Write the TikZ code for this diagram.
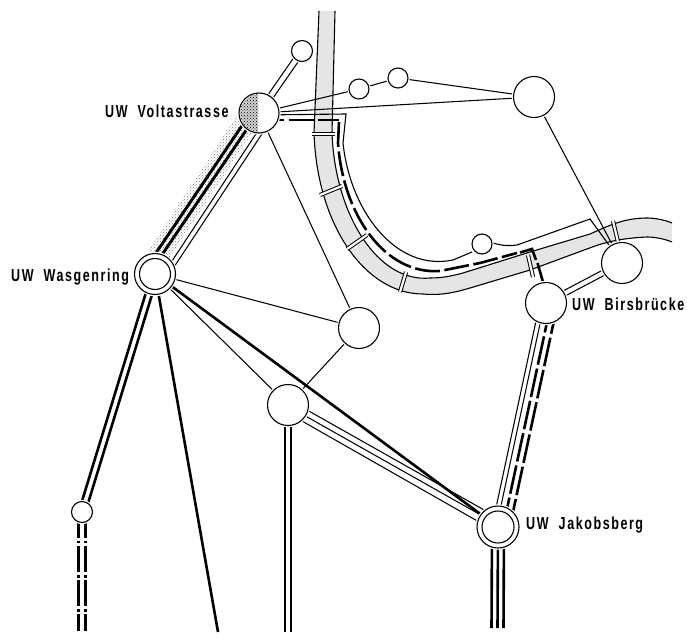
\documentclass[tikz,border=0pt]{standalone}
\usepackage{fontspec}
\newfontfamily\lab[FakeStretch=0.72,LetterSpace=9]{Liberation Sans Bold}
\usetikzlibrary{calc,backgrounds,patterns}
\newcommand{\outeredge}{(319,11) -- (314,133) .. controls (317,225) and (365,294) .. (423,294) .. controls (445,296) and (460,291) .. (480,285) -- (530,270) -- (595,246) .. controls (610,241) and (625,238) .. (647,237) .. controls (655,237) and (665,239) .. (672,242)}
\newcommand{\inneredge}{(335,11) -- (332,133) .. controls (335,215) and (378,283) .. (430,278) .. controls (445,278) and (455,275) .. (463,273) -- (530,252) -- (590,234) .. controls (610,225) and (625,218) .. (647,218) .. controls (655,218) and (665,220) .. (672,223)}
\tikzset{
  stn/.style={circle,draw,fill=white,inner sep=0pt,outer sep=0pt,minimum size=#1,line width=1.1pt,preaction={draw=white,line width=3.5pt}},
  ringin/.style={circle,draw,fill=white,inner sep=0pt,outer sep=0pt,minimum size=#1,line width=1.1pt},
  lbl/.style={anchor=west,inner sep=0pt,font=\lab\fontsize{17.4}{19}\selectfont},
  thinl/.style={line width=1.05pt},
  thickl/.style={line width=2.6pt},
  cable/.style={line width=2.6pt,dash pattern=on 25pt off 4.5pt},
  edge/.style={line width=1.1pt},
  tick/.style={line width=1pt,double=white,double distance=2.2pt},
}
\begin{document}
\begin{tikzpicture}[x=1pt,y=-1pt]
\useasboundingbox (0,0) rectangle (687,642);
% stations
\node[stn=40pt] (V) at (259,113) {};
\node[stn=21pt] (T) at (302,51) {};
\node[stn=20pt] (A) at (359,89) {};
\node[stn=20pt] (B) at (398,78) {};
\node[stn=41pt] (C) at (534,97) {};
\node[stn=41pt] (W) at (155,274) {};
\node[ringin=31pt] (Wi) at (W) {};
\node[stn=41pt] (D) at (359,328) {};
\node[stn=41pt] (P) at (288,405) {};
\node[stn=42pt] (J) at (498,527) {};
\node[ringin=32pt] (Ji) at (J) {};
\node[stn=41pt] (E) at (622,263) {};
\node[stn=41pt] (F) at (546,303) {};
\node[stn=21pt] (S) at (82,512) {};
\node[stn=20pt] (R) at (482,244) {};
% stippled part of Voltastrasse
\begin{scope}
\clip (V) circle (19pt);
\fill[gray!35] (236,90) rectangle (258,136);
\fill[pattern=crosshatch dots,pattern color=black] (236,90) rectangle (258,136);
\end{scope}
% labels
\node[lbl] (lV) at (105,111) {UW\ \ Voltastrasse};
\node[lbl] (lW) at (11,277) {UW\ \ Wasgenring};
\node[lbl] (lF) at (572,304) {UW\ \ Birsbrücke};
\node[lbl] (lJ) at (526,525) {UW\ \ Jakobsberg};
% free ends
\coordinate (endQ) at (218,632);
\coordinate (endS) at (82,631);
\coordinate (endP) at (288,632);
\coordinate (endJ) at (497.5,628);
\begin{scope}[on background layer]
% river
\fill[gray!20] \outeredge -- (672,223) .. controls (665,220) and (655,218) .. (647,218) .. controls (625,218) and (610,225) .. (590,234) -- (530,252) -- (463,273) .. controls (455,275) and (445,278) .. (430,278) .. controls (378,283) and (335,215) .. (332,133) -- (335,11) -- cycle;
\draw[edge] \outeredge;
\draw[edge] \inneredge;
% stippled strip
\fill[pattern=crosshatch dots,pattern color=gray]
  ($(V)!-17pt!90:(W)$) -- ($(V)!5pt!90:(W)$) -- ($(W)!3pt!-90:(V)$) -- ($(W)!-18pt!-90:(V)$) -- cycle;
% thin cable along the river
\draw[edge,line join=miter] ($(V)+(0,2)$) -- (346,114) -- (343,143) .. controls (350,210) and (395,272) .. (453,260) -- (472,252);
\draw[edge] (R) -- (493,243) .. controls (503,246) and (510,246) .. (517,245) -- (590,219) -- (E);
% heavy dashed cable along the river
\draw[cable] ($(V)+(0,7)$) -- (339,120);
\draw[cable] (339,122) -- (338,143) .. controls (343,215) and (385,275) .. (440,271) -- (480,263) -- (517,253);
\draw[line width=2.6pt,line join=miter] (520,252.5) -- (532,249) -- (536,260);
\draw[line width=2.6pt] (537.5,263) -- (543,282);
% crossings of the river
\draw[tick] (312,134) -- (335,134);
\draw[tick] (320,195) -- (342,186);
\draw[tick] (347,249) -- (367,235);
\draw[tick] (400,292) -- (406,272);
\draw[tick] (528,255) -- (533,277);
\draw[tick] (613,221) -- (618,242);
% single lines
\draw[thinl] (V) -- (A);
\draw[thinl] (A) -- (B);
\draw[thinl] (B) -- (C);
\draw[thinl] (V) -- (C);
\draw[thinl] (V) -- (D);
\draw[thinl] (C) -- (E);
\draw[thinl] (W) -- (D);
\draw[thinl] (W) -- (P);
\draw[thinl] (D) -- (P);
\draw[thickl] (W) -- (J);
\draw[thickl] (W) -- (endQ);
% V - T
\draw[thinl] ($(V)!3pt!90:(T)$) -- ($(T)!3pt!-90:(V)$);
\draw[thinl] ($(V)!-3pt!90:(T)$) -- ($(T)!-3pt!-90:(V)$);
% V - W bundle
\draw[line width=2.9pt] ($(V)!-7pt!90:(W)$) -- ($(W)!-11pt!-90:(V)$);
\draw[line width=2.9pt] ($(V)!-1pt!90:(W)$) -- ($(W)!-5pt!-90:(V)$);
\draw[thinl] ($(V)!9pt!90:(W)$) -- ($(W)!7pt!-90:(V)$);
\draw[thinl] ($(V)!14pt!90:(W)$) -- ($(W)!12pt!-90:(V)$);
% W - S
\draw[thickl] ($(W)!3.2pt!90:(S)$) -- ($(S)!3.2pt!-90:(W)$);
\draw[thickl] ($(W)!-3.2pt!90:(S)$) -- ($(S)!-3.2pt!-90:(W)$);
% S - free end
\draw[line width=2.4pt,dash pattern=on 26pt off 2.7pt on 2.7pt off 2.7pt] ($(S)+(-3.5,0)$) -- ($(endS)+(-3.5,0)$);
\draw[line width=2.4pt,dash pattern=on 26pt off 2.7pt on 2.7pt off 2.7pt] ($(S)+(3.5,0)$) -- ($(endS)+(3.5,0)$);
% P - free end
\draw[thinl] ($(P)+(-3,0)$) -- ($(endP)+(-3,0)$);
\draw[thinl] ($(P)+(3,0)$) -- ($(endP)+(3,0)$);
% P - J
\draw[thinl] ($(P)!5pt!90:(J)$) -- ($(J)!8pt!-90:(P)$);
\draw[thinl] ($(P)!-1pt!90:(J)$) -- ($(J)!2pt!-90:(P)$);
\draw[thinl] ($(P)!-7pt!90:(J)$) -- ($(J)!-5pt!-90:(P)$);
% E - F
\draw[thinl] ($(F)!2.7pt!90:(E)$) -- ($(E)!2.7pt!-90:(F)$);
\draw[thinl] ($(F)!-2.7pt!90:(E)$) -- ($(E)!-2.7pt!-90:(F)$);
% F - J
\draw[thinl] ($(F)!-6pt!90:(J)$) -- ($(J)!-6pt!-90:(F)$);
\draw[thinl] ($(F)!-1.5pt!90:(J)$) -- ($(J)!-1.5pt!-90:(F)$);
\draw[line width=2.6pt,dash pattern=on 29pt off 4pt] ($(F)!5pt!90:(J)$) -- ($(J)!5pt!-90:(F)$);
\draw[line width=2.6pt,dash pattern=on 29pt off 4pt] ($(F)!11.5pt!90:(J)$) -- ($(J)!11.5pt!-90:(F)$);
% J - free end
\draw[thickl] ($(J)+(-6,0)$) -- ($(endJ)+(-6,0)$);
\draw[thickl] (J) -- (endJ);
\draw[thickl] ($(J)+(6,0)$) -- ($(endJ)+(6,0)$);
\end{scope}
\end{tikzpicture}
\end{document}
